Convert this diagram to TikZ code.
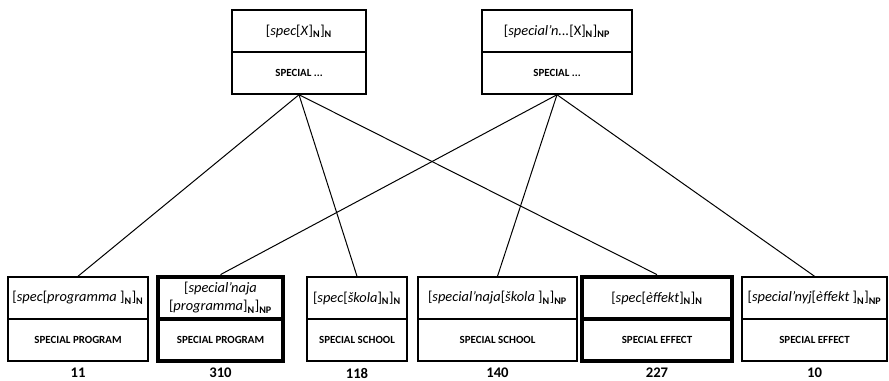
\documentclass[tikz,border=0pt]{standalone}
\usepackage{fontspec}
\setmainfont{Carlito}
\newcommand{\sN}{\textsubscript{\textbf{N}}}
\newcommand{\sNP}{\textsubscript{\textbf{NP}}}
\begin{document}
\begin{tikzpicture}[x=0.75pt,y=0.75pt,yscale=-1,xscale=1,
  form/.style={draw,line width=1.1pt,inner sep=0pt,minimum height=31.5pt,align=center,font=\fontsize{10.8}{13.5}\selectfont},
  gloss/.style={form,font=\fontsize{8.2}{10}\selectfont\bfseries},
  heavy/.style={line width=3.6pt},
  count/.style={inner sep=0pt,font=\fontsize{11}{12}\selectfont\bfseries},
  link/.style={line width=0.75pt}]
\useasboundingbox (0,0) rectangle (889,381);

% schemas
\node [form,minimum width=100.5pt] (t1) at (299,31) {[\textit{spec}[\textit{X}]\sN]\sN};
\node [gloss,minimum width=100.5pt] (t1s) at (299,73) {SPECIAL ...};
\node [form,minimum width=112.5pt] (t2) at (557,31) {[\textit{special’n...}[X]\sN]\sNP};
\node [gloss,minimum width=112.5pt] (t2s) at (557,73) {SPECIAL ...};

% constructs
\node [form,minimum width=105pt] (b1) at (78,298) {[\textit{spec}[\textit{programma} ]\sN]\sN};
\node [gloss,minimum width=105pt] (b1s) at (78,340) {SPECIAL PROGRAM};
\node [count] (n1) at (78,373) {11};

\node [form,heavy,minimum width=93.75pt] (b2) at (220.5,298) {[\textit{special’naja}\\{[}\textit{programma}]\sN]\sNP};
\node [gloss,heavy,minimum width=93.75pt] (b2s) at (220.5,340) {SPECIAL PROGRAM};
\node [count] (n2) at (220.5,373) {310};

\node [form,minimum width=75pt] (b3) at (357,298) {[\textit{spec}[\textit{škola}]\sN]\sN};
\node [gloss,minimum width=75pt] (b3s) at (357,340) {SPECIAL SCHOOL};
\node [count] (n3) at (357,373) {118};

\node [form,minimum width=119.25pt] (b4) at (497.5,298) {[\textit{special’naja}[\textit{škola} ]\sN]\sNP};
\node [gloss,minimum width=119.25pt] (b4s) at (497.5,340) {SPECIAL SCHOOL};
\node [count] (n4) at (497.5,373) {140};

\node [form,heavy,minimum width=112.5pt] (b5) at (657,298) {[\textit{spec}[\textit{èffekt}]\sN]\sN};
\node [gloss,heavy,minimum width=112.5pt] (b5s) at (657,340) {SPECIAL EFFECT};
\node [count] (n5) at (657,373) {227};

\node [form,minimum width=108.75pt] (b6) at (814.5,298) {[\textit{special’nyj}[\textit{èffekt} ]\sN]\sNP};
\node [gloss,minimum width=108.75pt] (b6s) at (814.5,340) {SPECIAL EFFECT};
\node [count] (n6) at (814.5,373) {10};

% links
\draw [link] (t1s.south) -- (b1.north);
\draw [link] (t1s.south) -- (b3.north);
\draw [link] (t1s.south) -- (b5.north);
\draw [link] (t2s.south) -- (b2.north);
\draw [link] (t2s.south) -- (b4.north);
\draw [link] (t2s.south) -- (b6.north);
\end{tikzpicture}
\end{document}
